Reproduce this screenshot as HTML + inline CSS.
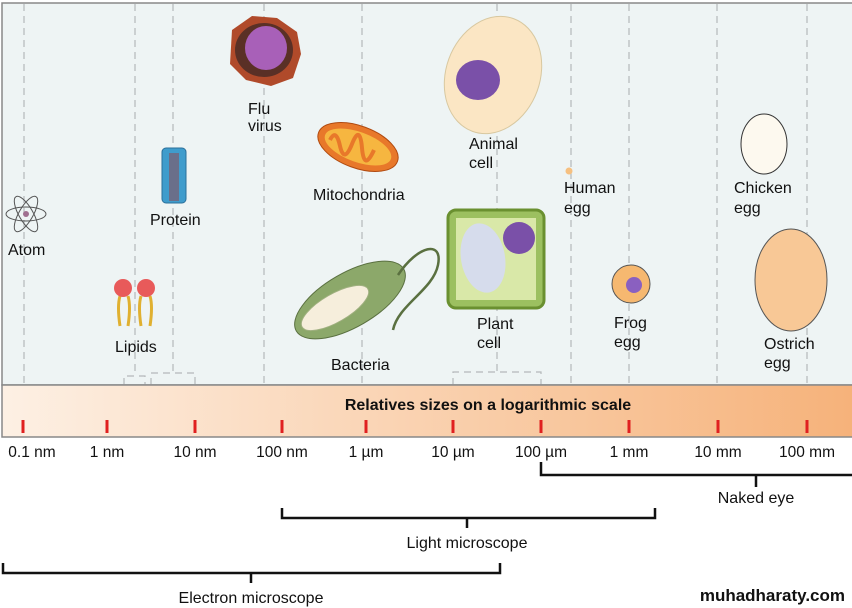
<!DOCTYPE html>
<html><head><meta charset="utf-8"><style>
body{margin:0;width:852px;height:608px;background:#fff;overflow:hidden;font-family:"Liberation Sans",sans-serif}
svg{display:block}
</style></head><body>
<svg width="852" height="608" viewBox="0 0 852 608" font-family="Liberation Sans, sans-serif">
<defs>
<linearGradient id="bar" x1="0" x2="1"><stop offset="0" stop-color="#fdf0e4"/><stop offset="1" stop-color="#f6b27a"/></linearGradient>
</defs>
<rect x="2" y="3" width="852" height="382" fill="#eef4f4" stroke="#888" stroke-width="1.5"/>
<g stroke="#b4b8ba" stroke-width="1.2" stroke-dasharray="7,5">
<line x1="24" y1="4" x2="24" y2="385"/><line x1="135" y1="4" x2="135" y2="375"/><line x1="173" y1="4" x2="173" y2="372"/>
<line x1="264" y1="4" x2="264" y2="385"/><line x1="362" y1="4" x2="362" y2="385"/><line x1="497" y1="4" x2="497" y2="372"/>
<line x1="571" y1="4" x2="571" y2="385"/><line x1="629" y1="4" x2="629" y2="385"/><line x1="717" y1="4" x2="717" y2="385"/><line x1="807" y1="4" x2="807" y2="385"/>
<path d="M124 385V376H145V385M151 385V373H195V385M453 385V372H541V385" fill="none"/>
</g>
<g fill="none" stroke="#555" stroke-width="1"><ellipse cx="26" cy="214" rx="20" ry="7"/><ellipse cx="26" cy="214" rx="20" ry="7" transform="rotate(60 26 214)"/><ellipse cx="26" cy="214" rx="20" ry="7" transform="rotate(-60 26 214)"/></g>
<circle cx="26" cy="214" r="3" fill="#a07090"/>
<g stroke="#e0b030" stroke-width="3" fill="none"><path d="M120 296q-3 10 0 30M128 296q3 10 0 30M141 296q-3 10 0 30M150 296q3 10 0 30"/></g>
<circle cx="123" cy="288" r="9" fill="#e85a5a"/><circle cx="146" cy="288" r="9" fill="#e85a5a"/>
<rect x="162" y="148" width="24" height="55" rx="4" fill="#3f9ccc" stroke="#2b6f9a"/><rect x="169" y="153" width="10" height="48" fill="#6a6f8a"/>
<path d="M232 30l20-14 25 2 20 14 4 22-8 24-22 8-25-6-16-16z" fill="#b04a2a"/>
<ellipse cx="264" cy="50" rx="29" ry="27" fill="#5a3026"/><ellipse cx="266" cy="48" rx="21" ry="22" fill="#a860b8"/>
<ellipse cx="358" cy="147" rx="42" ry="21" transform="rotate(20 358 147)" fill="#e8782a" stroke="#b04a10"/><ellipse cx="358" cy="147" rx="35" ry="15" transform="rotate(20 358 147)" fill="#f6b640"/>
<path d="M330 140q6-12 10 6t12-2 10 4 12 2" stroke="#e8782a" stroke-width="4" fill="none"/>
<ellipse cx="350" cy="300" rx="62" ry="27" transform="rotate(-30 350 300)" fill="#8ca86a" stroke="#5a7040"/>
<ellipse cx="335" cy="308" rx="38" ry="14" transform="rotate(-30 335 308)" fill="#f6eedc" stroke="#a0b080"/>
<path d="M398 275c20-30 45-35 40-10s-40 40-45 65" stroke="#5a7040" stroke-width="2.5" fill="none"/>
<ellipse cx="493" cy="75" rx="47" ry="60" transform="rotate(20 493 75)" fill="#fbe6c4" stroke="#d8c8a0"/>
<ellipse cx="478" cy="80" rx="22" ry="20" fill="#7a50a8"/>
<rect x="448" y="210" width="96" height="98" rx="8" fill="#9cc060" stroke="#6a9030" stroke-width="3"/><rect x="456" y="218" width="80" height="82" fill="#d9e8a8"/>
<ellipse cx="483" cy="258" rx="22" ry="35" transform="rotate(-10 483 258)" fill="#d6dcec"/><circle cx="519" cy="238" r="16" fill="#7a50a8"/>
<circle cx="569" cy="171" r="3.5" fill="#f6c080"/>
<circle cx="631" cy="284" r="19" fill="#f6b870" stroke="#555"/><circle cx="634" cy="285" r="8" fill="#8a60c0"/>
<ellipse cx="764" cy="144" rx="23" ry="30" fill="#fdf9ef" stroke="#333"/>
<ellipse cx="791" cy="280" rx="36" ry="51" fill="#f8c896" stroke="#555"/>
<g font-size="16" fill="#111">
<text x="8" y="255">Atom</text><text x="115" y="352">Lipids</text><text x="150" y="225">Protein</text>
<text x="248" y="114">Flu</text><text x="248" y="131">virus</text>
<text x="313" y="200">Mitochondria</text><text x="331" y="370">Bacteria</text>
<text x="469" y="149">Animal</text><text x="469" y="168">cell</text>
<text x="477" y="329">Plant</text><text x="477" y="348">cell</text>
<text x="564" y="193">Human</text><text x="564" y="213">egg</text>
<text x="614" y="328">Frog</text><text x="614" y="347">egg</text>
<text x="734" y="193">Chicken</text><text x="734" y="213">egg</text>
<text x="764" y="349">Ostrich</text><text x="764" y="368">egg</text>
</g>
<rect x="2" y="385" width="852" height="52" fill="url(#bar)" stroke="#888" stroke-width="1.5"/>
<text x="488" y="410" text-anchor="middle" font-size="16" font-weight="bold" fill="#111">Relatives sizes on a logarithmic scale</text>
<g stroke="#e02020" stroke-width="3">
<line x1="23" y1="420" x2="23" y2="433"/><line x1="107" y1="420" x2="107" y2="433"/><line x1="195" y1="420" x2="195" y2="433"/><line x1="282" y1="420" x2="282" y2="433"/><line x1="366" y1="420" x2="366" y2="433"/><line x1="453" y1="420" x2="453" y2="433"/><line x1="541" y1="420" x2="541" y2="433"/><line x1="629" y1="420" x2="629" y2="433"/><line x1="718" y1="420" x2="718" y2="433"/><line x1="807" y1="420" x2="807" y2="433"/>
</g>
<g font-size="15.5" fill="#111" text-anchor="middle">
<text x="32" y="457">0.1 nm</text><text x="107" y="457">1 nm</text><text x="195" y="457">10 nm</text><text x="282" y="457">100 nm</text><text x="366" y="457">1 µm</text><text x="453" y="457">10 µm</text><text x="541" y="457">100 µm</text><text x="629" y="457">1 mm</text><text x="718" y="457">10 mm</text><text x="807" y="457">100 mm</text>
</g>
<g stroke="#111" stroke-width="2.5" fill="none">
<path d="M541 462V475H852M756 475V487"/>
<path d="M282 508V518H655V508M467 518V528"/>
<path d="M3 563V573H500V563M251 573V583"/>
</g>
<g font-size="16" fill="#111" text-anchor="middle">
<text x="756" y="503">Naked eye</text><text x="467" y="548">Light microscope</text><text x="251" y="603">Electron microscope</text>
</g>
<text x="845" y="601" text-anchor="end" font-size="17" font-weight="bold" fill="#111">muhadharaty.com</text>
</svg>
</body></html>
